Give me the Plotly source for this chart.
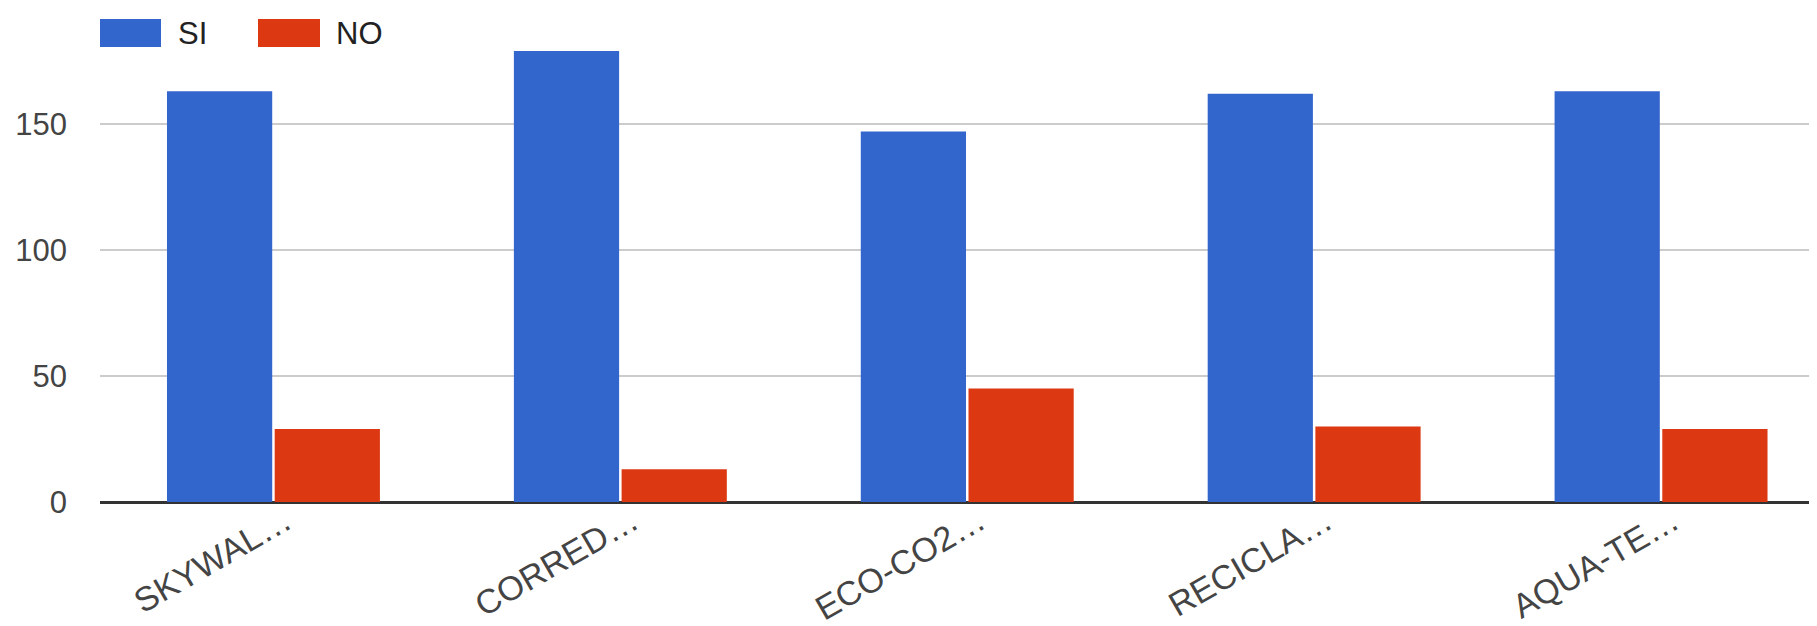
import plotly.graph_objects as go

categories = ["SKYWAL…", "CORRED…", "ECO-CO2…", "RECICLA…", "AQUA-TE…"]
series_names = ["SI", "NO"]
si_values = [163, 179, 147, 162, 163]
no_values = [29, 13, 45, 30, 29]
y_ticks = [0, 50, 100, 150]

colors = ["#3366cc", "#dc3912"]
FONT = "Liberation Sans, Arial, sans-serif"

OFF = 8  # page body margin
W, H = 1817, 626
ML, MR, MT, MB = 100 - OFF, OFF, 40 - OFF, 124 + OFF
plot_w = W - ML - MR
plot_h = H - MT - MB
px_per_unit = 378 / 150.0
ymax = plot_h / px_per_unit
cat_px = 346.9
xmax = -0.5 + plot_w / cat_px

fig = go.Figure()
for name, vals, col in zip(series_names, [si_values, no_values], colors):
    fig.add_trace(go.Bar(
        x=categories, y=vals, name=name,
        marker=dict(color=col, line=dict(width=0)),
        showlegend=False,
    ))

# custom legend (large swatches as in the reference); coords are window px
def px_x(p):
    return (p - OFF - ML) / plot_w

def px_y(p):
    return (H - MB - (p - OFF)) / plot_h

legend_items = [(100, 161, 176), (258, 320, 334)]
for (x0, x1, tx), name, col in zip(legend_items, series_names, colors):
    fig.add_shape(type="rect", xref="paper", yref="paper",
                  x0=px_x(x0), x1=px_x(x1), y0=px_y(47), y1=px_y(19),
                  fillcolor=col, line=dict(width=0), layer="above")
    fig.add_annotation(xref="paper", yref="paper", x=px_x(tx), y=px_y(33),
                       text=name, showarrow=False, xanchor="left", yanchor="middle",
                       font=dict(family=FONT, size=31, color="#222222"))

fig.update_layout(
    width=W, height=H,
    margin=dict(l=ML, r=MR, t=MT, b=MB, pad=0, autoexpand=False),
    paper_bgcolor="white", plot_bgcolor="white",
    barmode="group", bargap=0.379, bargroupgap=0.023,
    font=dict(family=FONT, size=31, color="#444444"),
    xaxis=dict(
        range=[-0.5, xmax], tickangle=-30, showgrid=False, zeroline=False,
        showline=False, ticks="", ticklabelstandoff=-8, ticklabelshift=12,
        tickfont=dict(family=FONT, size=34, color="#444444"),
        fixedrange=True, automargin=False,
    ),
    yaxis=dict(
        range=[0, ymax], tickvals=y_ticks, showgrid=True, gridcolor="#cccccc", gridwidth=2,
        zeroline=True, zerolinecolor="#333333", zerolinewidth=3,
        showline=False, ticks="", ticklabelstandoff=32,
        tickfont=dict(family=FONT, size=31, color="#444444"),
        fixedrange=True, automargin=False,
    ),
)

fig.write_html("out.html")
